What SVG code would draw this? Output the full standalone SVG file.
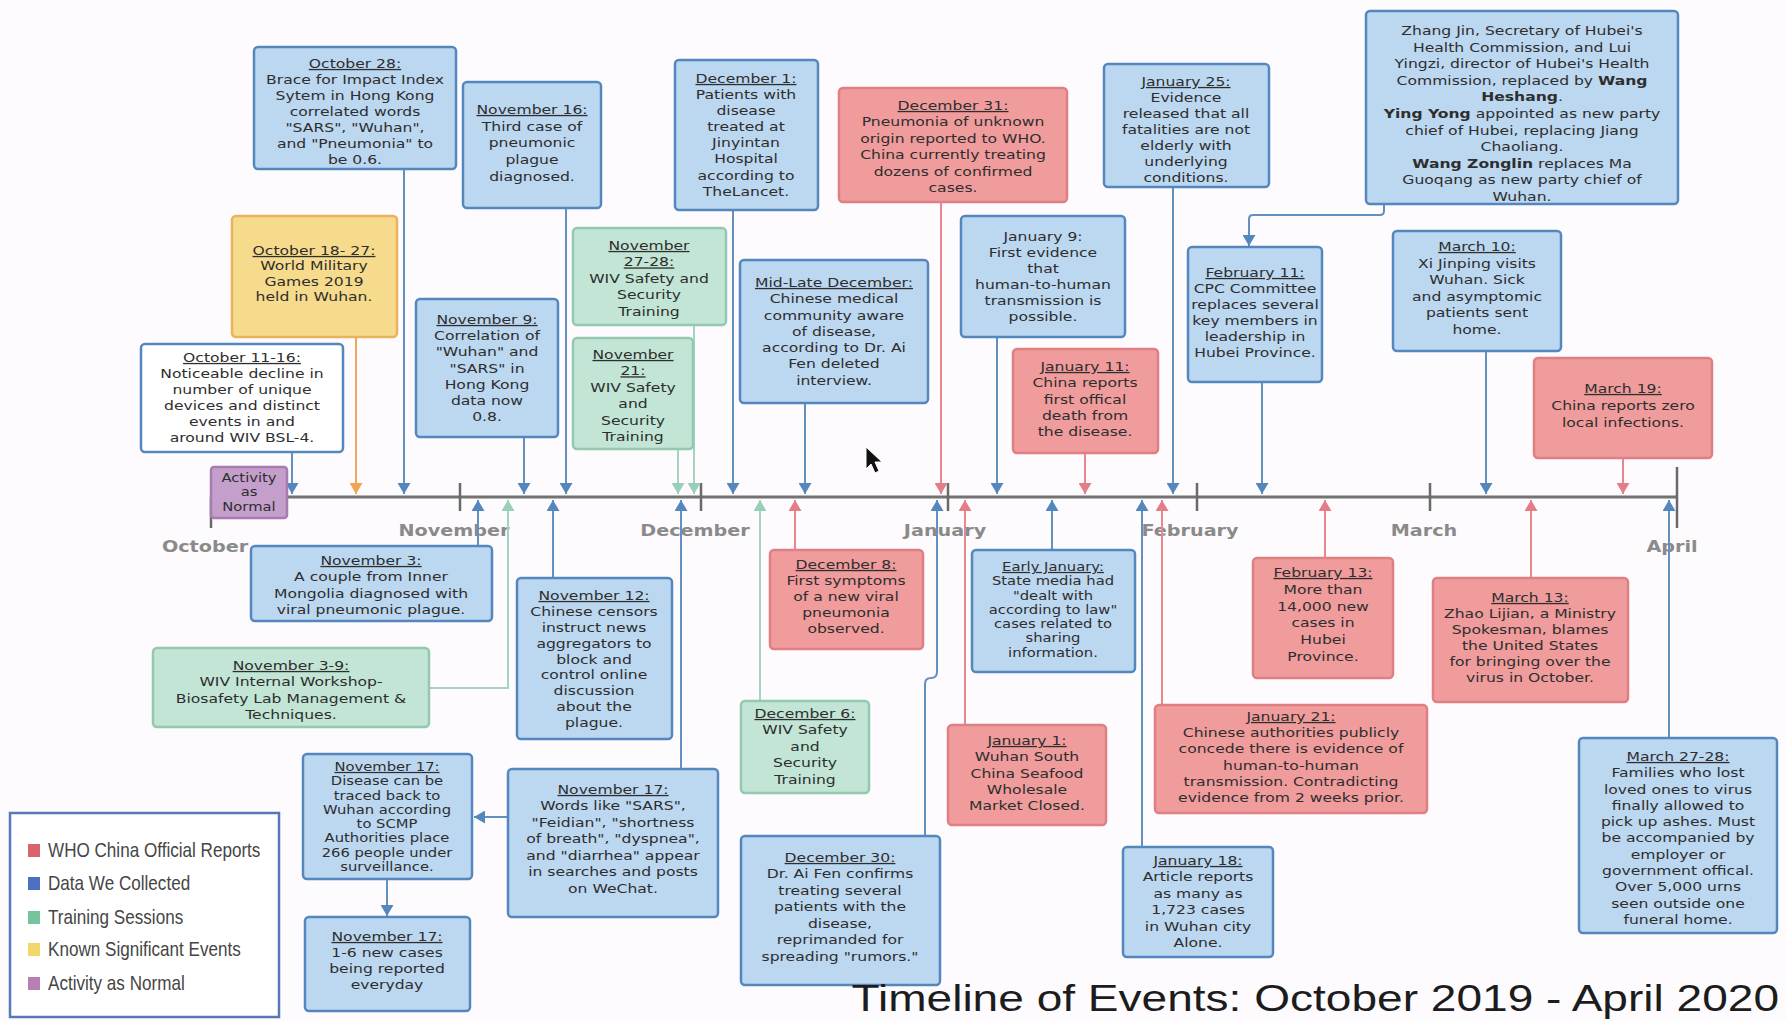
<svg xmlns="http://www.w3.org/2000/svg" width="1787" height="1021" viewBox="0 0 1787 1021">
<style>
.bx{stroke-width:2.5}
.b{fill:#bcd7f0;stroke:#5587bf}
.r{fill:#f09c9c;stroke:#df7e83}
.g{fill:#c2e5d5;stroke:#93c9b1}
.y{fill:#f7db8c;stroke:#eab25b}
.p{fill:#c49fcb;stroke:#a67cb1}
.w{fill:#ffffff;stroke:#5587bf}
.t{font-family:"DejaVu Sans",sans-serif;font-size:13px;fill:#2e2e2e;text-anchor:middle}
.s{font-size:12.3px}
.u{text-decoration:underline}
.bo{font-weight:bold}
.c{fill:none;stroke-width:2}
.cb{stroke:#6490c0}
.cr{stroke:#e8878d}
.cg{stroke:#a2d4bf}
.co{stroke:#f0a75c}
.m{font-family:"DejaVu Sans",sans-serif;font-size:16px;font-weight:bold;fill:#8a8a8a;text-anchor:middle}
.lg{font-family:"Liberation Sans",Arial,sans-serif;font-size:20px;fill:#454545}
</style>
<defs>
<marker id="mb" viewBox="0 0 11 13" refX="11" refY="6.5" markerWidth="11" markerHeight="13" markerUnits="userSpaceOnUse" orient="auto"><path d="M0,0 L11,6.5 L0,13 z" fill="#5587bf"/></marker>
<marker id="mr" viewBox="0 0 11 13" refX="11" refY="6.5" markerWidth="11" markerHeight="13" markerUnits="userSpaceOnUse" orient="auto"><path d="M0,0 L11,6.5 L0,13 z" fill="#e47e86"/></marker>
<marker id="mg" viewBox="0 0 11 13" refX="11" refY="6.5" markerWidth="11" markerHeight="13" markerUnits="userSpaceOnUse" orient="auto"><path d="M0,0 L11,6.5 L0,13 z" fill="#98cfb7"/></marker>
<marker id="mo" viewBox="0 0 11 13" refX="11" refY="6.5" markerWidth="11" markerHeight="13" markerUnits="userSpaceOnUse" orient="auto"><path d="M0,0 L11,6.5 L0,13 z" fill="#f0a554"/></marker>
</defs>
<rect x="0" y="0" width="1787" height="1021" fill="#fdfbfd"/>

<g id="timeline">
<line x1="211" y1="497" x2="1677" y2="497" stroke="#727272" stroke-width="3"/>
<g stroke="#6a6a6a" stroke-width="2.5">
<line x1="211" y1="497" x2="211" y2="528"/>
<line x1="460" y1="483" x2="460" y2="511"/>
<line x1="701" y1="483" x2="701" y2="511"/>
<line x1="948" y1="483" x2="948" y2="511"/>
<line x1="1197" y1="483" x2="1197" y2="511"/>
<line x1="1430" y1="483" x2="1430" y2="511"/>
<line x1="1677" y1="467" x2="1677" y2="528"/>
</g>
<text class="m" transform="translate(205,552) scale(1.2,1)">October</text>
<text class="m" transform="translate(454,536) scale(1.2,1)">November</text>
<text class="m" transform="translate(695,536) scale(1.2,1)">December</text>
<text class="m" transform="translate(945,536) scale(1.2,1)">January</text>
<text class="m" transform="translate(1190,536) scale(1.2,1)">February</text>
<text class="m" transform="translate(1424,536) scale(1.2,1)">March</text>
<text class="m" transform="translate(1672,552) scale(1.2,1)">April</text>
</g>

<g id="connectors">
<line class="c cb" x1="292" y1="452" x2="292" y2="494" marker-end="url(#mb)"/>
<line class="c co" x1="356" y1="337" x2="356" y2="494" marker-end="url(#mo)"/>
<line class="c cb" x1="404" y1="169" x2="404" y2="494" marker-end="url(#mb)"/>
<line class="c cb" x1="524" y1="437" x2="524" y2="494" marker-end="url(#mb)"/>
<line class="c cb" x1="566" y1="208" x2="566" y2="494" marker-end="url(#mb)"/>
<line class="c cg" x1="678" y1="449" x2="678" y2="494" marker-end="url(#mg)"/>
<line class="c cg" x1="694" y1="325" x2="694" y2="494" marker-end="url(#mg)"/>
<line class="c cb" x1="733" y1="210" x2="733" y2="494" marker-end="url(#mb)"/>
<line class="c cb" x1="805" y1="403" x2="805" y2="494" marker-end="url(#mb)"/>
<line class="c cr" x1="941" y1="202" x2="941" y2="494" marker-end="url(#mr)"/>
<line class="c cb" x1="997" y1="337" x2="997" y2="494" marker-end="url(#mb)"/>
<line class="c cr" x1="1085" y1="453" x2="1085" y2="494" marker-end="url(#mr)"/>
<line class="c cb" x1="1173" y1="187" x2="1173" y2="494" marker-end="url(#mb)"/>
<line class="c cb" x1="1262" y1="382" x2="1262" y2="494" marker-end="url(#mb)"/>
<line class="c cb" x1="1486" y1="351" x2="1486" y2="494" marker-end="url(#mb)"/>
<line class="c cr" x1="1623" y1="458" x2="1623" y2="494" marker-end="url(#mr)"/>

<line class="c cb" x1="478" y1="546" x2="478" y2="500" marker-end="url(#mb)"/>
<path class="c cg" d="M429,688 H508 V500" marker-end="url(#mg)"/>
<line class="c cb" x1="553" y1="578" x2="553" y2="500" marker-end="url(#mb)"/>
<line class="c cb" x1="681" y1="769" x2="681" y2="500" marker-end="url(#mb)"/>
<line class="c cg" x1="760" y1="701" x2="760" y2="500" marker-end="url(#mg)"/>
<line class="c cr" x1="795" y1="550" x2="795" y2="500" marker-end="url(#mr)"/>
<path class="c cb" d="M925,836 V684 Q925,678 931,678 Q937,678 937,672 V500" marker-end="url(#mb)"/>
<line class="c cr" x1="965" y1="725" x2="965" y2="500" marker-end="url(#mr)"/>
<line class="c cb" x1="1052" y1="550" x2="1052" y2="500" marker-end="url(#mb)"/>
<line class="c cb" x1="1142" y1="847" x2="1142" y2="500" marker-end="url(#mb)"/>
<line class="c cr" x1="1162" y1="705" x2="1162" y2="500" marker-end="url(#mr)"/>
<line class="c cr" x1="1325" y1="558" x2="1325" y2="500" marker-end="url(#mr)"/>
<line class="c cr" x1="1531" y1="578" x2="1531" y2="500" marker-end="url(#mr)"/>
<line class="c cb" x1="1669" y1="738" x2="1669" y2="500" marker-end="url(#mb)"/>

<line class="c cb" x1="508" y1="817" x2="474" y2="817" marker-end="url(#mb)"/>
<line class="c cb" x1="387" y1="879" x2="387" y2="916" marker-end="url(#mb)"/>
<path class="c cb" d="M1384,204 V211 Q1384,215 1380,215 H1253 Q1249,215 1249,219 V246" marker-end="url(#mb)"/>
</g>

<g id="oct28"><rect class="bx b" x="254" y="47" width="202" height="122" rx="4"/>
<text class="t" transform="translate(355,68) scale(1.2,1)"><tspan x="0" class="u">October 28:</tspan><tspan x="0" dy="16">Brace for Impact Index</tspan><tspan x="0" dy="16">Sytem in Hong Kong</tspan><tspan x="0" dy="16">correlated words</tspan><tspan x="0" dy="16">"SARS", "Wuhan",</tspan><tspan x="0" dy="16">and "Pneumonia" to</tspan><tspan x="0" dy="16">be 0.6.</tspan></text></g>

<g id="oct1827"><rect class="bx y" x="232" y="216" width="165" height="121" rx="4"/>
<text class="t" transform="translate(314,255) scale(1.2,1)"><tspan x="0" class="u">October 18- 27:</tspan><tspan x="0" dy="15.5">World Military</tspan><tspan x="0" dy="15.5">Games 2019</tspan><tspan x="0" dy="15.5">held in Wuhan.</tspan></text></g>

<g id="oct1116"><rect class="bx w" x="141" y="344" width="202" height="108" rx="4"/>
<text class="t" transform="translate(242,362) scale(1.2,1)"><tspan x="0" class="u">October 11-16:</tspan><tspan x="0" dy="16">Noticeable decline in</tspan><tspan x="0" dy="16">number of unique</tspan><tspan x="0" dy="16">devices and distinct</tspan><tspan x="0" dy="16">events in and</tspan><tspan x="0" dy="16">around WIV BSL-4.</tspan></text></g>

<g id="activity"><rect class="bx p" x="211" y="467" width="76" height="51" rx="3"/>
<text class="t s" transform="translate(249,482) scale(1.2,1)"><tspan x="0">Activity</tspan><tspan x="0" dy="14.5">as</tspan><tspan x="0" dy="14.5">Normal</tspan></text></g>

<g id="nov3"><rect class="bx b" x="251" y="546" width="241" height="75" rx="4"/>
<text class="t" transform="translate(371,565) scale(1.2,1)"><tspan x="0" class="u">November 3:</tspan><tspan x="0" dy="16.3">A couple from Inner</tspan><tspan x="0" dy="16.3">Mongolia diagnosed with</tspan><tspan x="0" dy="16.3">viral pneumonic plague.</tspan></text></g>

<g id="nov39"><rect class="bx g" x="153" y="648" width="276" height="79" rx="4"/>
<text class="t" transform="translate(291,670) scale(1.2,1)"><tspan x="0" class="u">November 3-9:</tspan><tspan x="0" dy="16.3">WIV Internal Workshop-</tspan><tspan x="0" dy="16.3">Biosafety Lab Management &amp;</tspan><tspan x="0" dy="16.3">Techniques.</tspan></text></g>

<g id="nov17a"><rect class="bx b" x="303" y="754" width="169" height="125" rx="4"/>
<text class="t s" transform="translate(387,771) scale(1.2,1)"><tspan x="0" class="u">November 17:</tspan><tspan x="0" dy="14.3">Disease can be</tspan><tspan x="0" dy="14.3">traced back to</tspan><tspan x="0" dy="14.3">Wuhan according</tspan><tspan x="0" dy="14.3">to SCMP</tspan><tspan x="0" dy="14.3">Authorities place</tspan><tspan x="0" dy="14.3">266 people under</tspan><tspan x="0" dy="14.3">surveillance.</tspan></text></g>

<g id="nov17b"><rect class="bx b" x="305" y="917" width="165" height="94" rx="4"/>
<text class="t" transform="translate(387,941) scale(1.2,1)"><tspan x="0" class="u">November 17:</tspan><tspan x="0" dy="16">1-6 new cases</tspan><tspan x="0" dy="16">being reported</tspan><tspan x="0" dy="16">everyday</tspan></text></g>

<g id="nov17c"><rect class="bx b" x="508" y="769" width="210" height="148" rx="4"/>
<text class="t" transform="translate(613,794) scale(1.2,1)"><tspan x="0" class="u">November 17:</tspan><tspan x="0" dy="16.5">Words like "SARS",</tspan><tspan x="0" dy="16.5">"Feidian", "shortness</tspan><tspan x="0" dy="16.5">of breath", "dyspnea",</tspan><tspan x="0" dy="16.5">and "diarrhea" appear</tspan><tspan x="0" dy="16.5">in searches and posts</tspan><tspan x="0" dy="16.5">on WeChat.</tspan></text></g>

<g id="nov12"><rect class="bx b" x="517" y="578" width="155" height="161" rx="4"/>
<text class="t" transform="translate(594,600) scale(1.2,1)"><tspan x="0" class="u">November 12:</tspan><tspan x="0" dy="15.9">Chinese censors</tspan><tspan x="0" dy="15.9">instruct news</tspan><tspan x="0" dy="15.9">aggregators to</tspan><tspan x="0" dy="15.9">block and</tspan><tspan x="0" dy="15.9">control online</tspan><tspan x="0" dy="15.9">discussion</tspan><tspan x="0" dy="15.9">about the</tspan><tspan x="0" dy="15.9">plague.</tspan></text></g>

<g id="nov9"><rect class="bx b" x="416" y="299" width="142" height="138" rx="4"/>
<text class="t" transform="translate(487,324) scale(1.2,1)"><tspan x="0" class="u">November 9:</tspan><tspan x="0" dy="16.2">Correlation of</tspan><tspan x="0" dy="16.2">"Wuhan" and</tspan><tspan x="0" dy="16.2">"SARS" in</tspan><tspan x="0" dy="16.2">Hong Kong</tspan><tspan x="0" dy="16.2">data now</tspan><tspan x="0" dy="16.2">0.8.</tspan></text></g>

<g id="nov16"><rect class="bx b" x="463" y="82" width="138" height="126" rx="4"/>
<text class="t" transform="translate(532,114) scale(1.2,1)"><tspan x="0" class="u">November 16:</tspan><tspan x="0" dy="16.7">Third case of</tspan><tspan x="0" dy="16.7">pneumonic</tspan><tspan x="0" dy="16.7">plague</tspan><tspan x="0" dy="16.7">diagnosed.</tspan></text></g>

<g id="nov2728"><rect class="bx g" x="573" y="228" width="153" height="97" rx="4"/>
<text class="t" transform="translate(649,250) scale(1.2,1)"><tspan x="0" class="u">November</tspan><tspan x="0" dy="16.5" class="u">27-28:</tspan><tspan x="0" dy="16.5">WIV Safety and</tspan><tspan x="0" dy="16.5">Security</tspan><tspan x="0" dy="16.5">Training</tspan></text></g>

<g id="nov21"><rect class="bx g" x="573" y="338" width="120" height="111" rx="4"/>
<text class="t" transform="translate(633,359) scale(1.2,1)"><tspan x="0" class="u">November</tspan><tspan x="0" dy="16.4" class="u">21:</tspan><tspan x="0" dy="16.4">WIV Safety</tspan><tspan x="0" dy="16.4">and</tspan><tspan x="0" dy="16.4">Security</tspan><tspan x="0" dy="16.4">Training</tspan></text></g>

<g id="dec1"><rect class="bx b" x="675" y="60" width="143" height="150" rx="4"/>
<text class="t" transform="translate(746,83) scale(1.2,1)"><tspan x="0" class="u">December 1:</tspan><tspan x="0" dy="16.1">Patients with</tspan><tspan x="0" dy="16.1">disease</tspan><tspan x="0" dy="16.1">treated at</tspan><tspan x="0" dy="16.1">Jinyintan</tspan><tspan x="0" dy="16.1">Hospital</tspan><tspan x="0" dy="16.1">according to</tspan><tspan x="0" dy="16.1">TheLancet.</tspan></text></g>

<g id="midlate"><rect class="bx b" x="740" y="260" width="188" height="143" rx="4"/>
<text class="t" transform="translate(834,287) scale(1.2,1)"><tspan x="0" class="u">Mid-Late December:</tspan><tspan x="0" dy="16.3">Chinese medical</tspan><tspan x="0" dy="16.3">community aware</tspan><tspan x="0" dy="16.3">of disease,</tspan><tspan x="0" dy="16.3">according to Dr. Ai</tspan><tspan x="0" dy="16.3">Fen deleted</tspan><tspan x="0" dy="16.3">interview.</tspan></text></g>

<g id="dec31"><rect class="bx r" x="839" y="88" width="228" height="114" rx="4"/>
<text class="t" transform="translate(953,110) scale(1.2,1)"><tspan x="0" class="u">December 31:</tspan><tspan x="0" dy="16.4">Pneumonia of unknown</tspan><tspan x="0" dy="16.4">origin reported to WHO.</tspan><tspan x="0" dy="16.4">China currently treating</tspan><tspan x="0" dy="16.4">dozens of confirmed</tspan><tspan x="0" dy="16.4">cases.</tspan></text></g>

<g id="dec8"><rect class="bx r" x="770" y="550" width="153" height="99" rx="4"/>
<text class="t" transform="translate(846,569) scale(1.2,1)"><tspan x="0" class="u">December 8:</tspan><tspan x="0" dy="16">First symptoms</tspan><tspan x="0" dy="16">of a new viral</tspan><tspan x="0" dy="16">pneumonia</tspan><tspan x="0" dy="16">observed.</tspan></text></g>

<g id="dec6"><rect class="bx g" x="741" y="701" width="128" height="92" rx="4"/>
<text class="t" transform="translate(805,718) scale(1.2,1)"><tspan x="0" class="u">December 6:</tspan><tspan x="0" dy="16.5">WIV Safety</tspan><tspan x="0" dy="16.5">and</tspan><tspan x="0" dy="16.5">Security</tspan><tspan x="0" dy="16.5">Training</tspan></text></g>

<g id="dec30"><rect class="bx b" x="741" y="836" width="199" height="149" rx="4"/>
<text class="t" transform="translate(840,862) scale(1.2,1)"><tspan x="0" class="u">December 30:</tspan><tspan x="0" dy="16.5">Dr. Ai Fen confirms</tspan><tspan x="0" dy="16.5">treating several</tspan><tspan x="0" dy="16.5">patients with the</tspan><tspan x="0" dy="16.5">disease,</tspan><tspan x="0" dy="16.5">reprimanded for</tspan><tspan x="0" dy="16.5">spreading "rumors."</tspan></text></g>

<g id="jan9"><rect class="bx b" x="961" y="216" width="164" height="121" rx="4"/>
<text class="t" transform="translate(1043,241) scale(1.2,1)"><tspan x="0">January 9:</tspan><tspan x="0" dy="16">First evidence</tspan><tspan x="0" dy="16">that</tspan><tspan x="0" dy="16">human-to-human</tspan><tspan x="0" dy="16">transmission is</tspan><tspan x="0" dy="16">possible.</tspan></text></g>

<g id="jan11"><rect class="bx r" x="1013" y="349" width="145" height="104" rx="4"/>
<text class="t" transform="translate(1085,371) scale(1.2,1)"><tspan x="0" class="u">January 11:</tspan><tspan x="0" dy="16.3">China reports</tspan><tspan x="0" dy="16.3">first offical</tspan><tspan x="0" dy="16.3">death from</tspan><tspan x="0" dy="16.3">the disease.</tspan></text></g>

<g id="earlyjan"><rect class="bx b" x="972" y="550" width="163" height="122" rx="4"/>
<text class="t s" transform="translate(1053,571) scale(1.2,1)"><tspan x="0" class="u">Early January:</tspan><tspan x="0" dy="14.3">State media had</tspan><tspan x="0" dy="14.3">"dealt with</tspan><tspan x="0" dy="14.3">according to law"</tspan><tspan x="0" dy="14.3">cases related to</tspan><tspan x="0" dy="14.3">sharing</tspan><tspan x="0" dy="14.3">information.</tspan></text></g>

<g id="jan1"><rect class="bx r" x="948" y="725" width="158" height="100" rx="4"/>
<text class="t" transform="translate(1027,745) scale(1.2,1)"><tspan x="0" class="u">January 1:</tspan><tspan x="0" dy="16.3">Wuhan South</tspan><tspan x="0" dy="16.3">China Seafood</tspan><tspan x="0" dy="16.3">Wholesale</tspan><tspan x="0" dy="16.3">Market Closed.</tspan></text></g>

<g id="jan18"><rect class="bx b" x="1123" y="847" width="150" height="110" rx="4"/>
<text class="t" transform="translate(1198,865) scale(1.2,1)"><tspan x="0" class="u">January 18:</tspan><tspan x="0" dy="16.4">Article reports</tspan><tspan x="0" dy="16.4">as many as</tspan><tspan x="0" dy="16.4">1,723 cases</tspan><tspan x="0" dy="16.4">in Wuhan city</tspan><tspan x="0" dy="16.4">Alone.</tspan></text></g>

<g id="jan21"><rect class="bx r" x="1155" y="705" width="272" height="108" rx="4"/>
<text class="t" transform="translate(1291,721) scale(1.2,1)"><tspan x="0" class="u">January 21:</tspan><tspan x="0" dy="16.2">Chinese authorities publicly</tspan><tspan x="0" dy="16.2">concede there is evidence of</tspan><tspan x="0" dy="16.2">human-to-human</tspan><tspan x="0" dy="16.2">transmission. Contradicting</tspan><tspan x="0" dy="16.2">evidence from 2 weeks prior.</tspan></text></g>

<g id="jan25"><rect class="bx b" x="1104" y="64" width="165" height="123" rx="4"/>
<text class="t" transform="translate(1186,86) scale(1.2,1)"><tspan x="0" class="u">January 25:</tspan><tspan x="0" dy="16">Evidence</tspan><tspan x="0" dy="16">released that all</tspan><tspan x="0" dy="16">fatalities are not</tspan><tspan x="0" dy="16">elderly with</tspan><tspan x="0" dy="16">underlying</tspan><tspan x="0" dy="16">conditions.</tspan></text></g>

<g id="feb11"><rect class="bx b" x="1188" y="247" width="134" height="135" rx="4"/>
<text class="t" transform="translate(1255,277) scale(1.2,1)"><tspan x="0" class="u">February 11:</tspan><tspan x="0" dy="16">CPC Committee</tspan><tspan x="0" dy="16">replaces several</tspan><tspan x="0" dy="16">key members in</tspan><tspan x="0" dy="16">leadership in</tspan><tspan x="0" dy="16">Hubei Province.</tspan></text></g>

<g id="zhang"><rect class="bx b" x="1366" y="11" width="312" height="193" rx="4"/>
<text class="t" transform="translate(1522,35) scale(1.2,1)"><tspan x="0">Zhang Jin, Secretary of Hubei's</tspan><tspan x="0" dy="16.6">Health Commission, and Lui</tspan><tspan x="0" dy="16.6">Yingzi, director of Hubei's Health</tspan><tspan x="0" dy="16.6">Commission, replaced by <tspan class="bo">Wang</tspan></tspan><tspan x="0" dy="16.6"><tspan class="bo">Heshang</tspan>.</tspan><tspan x="0" dy="16.6"><tspan class="bo">Ying Yong</tspan> appointed as new party</tspan><tspan x="0" dy="16.6">chief of Hubei, replacing Jiang</tspan><tspan x="0" dy="16.6">Chaoliang.</tspan><tspan x="0" dy="16.6"><tspan class="bo">Wang Zonglin</tspan> replaces Ma</tspan><tspan x="0" dy="16.6">Guoqang as new party chief of</tspan><tspan x="0" dy="16.6">Wuhan.</tspan></text></g>

<g id="feb13"><rect class="bx r" x="1253" y="558" width="140" height="120" rx="4"/>
<text class="t" transform="translate(1323,577) scale(1.2,1)"><tspan x="0" class="u">February 13:</tspan><tspan x="0" dy="16.8">More than</tspan><tspan x="0" dy="16.8">14,000 new</tspan><tspan x="0" dy="16.8">cases in</tspan><tspan x="0" dy="16.8">Hubei</tspan><tspan x="0" dy="16.8">Province.</tspan></text></g>

<g id="mar10"><rect class="bx b" x="1393" y="231" width="168" height="120" rx="4"/>
<text class="t" transform="translate(1477,251) scale(1.2,1)"><tspan x="0" class="u">March 10:</tspan><tspan x="0" dy="16.6">Xi Jinping visits</tspan><tspan x="0" dy="16.6">Wuhan. Sick</tspan><tspan x="0" dy="16.6">and asymptomic</tspan><tspan x="0" dy="16.6">patients sent</tspan><tspan x="0" dy="16.6">home.</tspan></text></g>

<g id="mar19"><rect class="bx r" x="1534" y="358" width="178" height="100" rx="4"/>
<text class="t" transform="translate(1623,393) scale(1.2,1)"><tspan x="0" class="u">March 19:</tspan><tspan x="0" dy="17">China reports zero</tspan><tspan x="0" dy="17">local infections.</tspan></text></g>

<g id="mar13"><rect class="bx r" x="1433" y="578" width="195" height="124" rx="4"/>
<text class="t" transform="translate(1530,602) scale(1.2,1)"><tspan x="0" class="u">March 13:</tspan><tspan x="0" dy="16">Zhao Lijian, a Ministry</tspan><tspan x="0" dy="16">Spokesman, blames</tspan><tspan x="0" dy="16">the United States</tspan><tspan x="0" dy="16">for bringing over the</tspan><tspan x="0" dy="16">virus in October.</tspan></text></g>

<g id="mar2728"><rect class="bx b" x="1579" y="738" width="198" height="195" rx="4"/>
<text class="t" transform="translate(1678,761) scale(1.2,1)"><tspan x="0" class="u">March 27-28:</tspan><tspan x="0" dy="16.3">Families who lost</tspan><tspan x="0" dy="16.3">loved ones to virus</tspan><tspan x="0" dy="16.3">finally allowed to</tspan><tspan x="0" dy="16.3">pick up ashes. Must</tspan><tspan x="0" dy="16.3">be accompanied by</tspan><tspan x="0" dy="16.3">employer or</tspan><tspan x="0" dy="16.3">government offical.</tspan><tspan x="0" dy="16.3">Over 5,000 urns</tspan><tspan x="0" dy="16.3">seen outside one</tspan><tspan x="0" dy="16.3">funeral home.</tspan></text></g>

<g id="legend">
<rect x="10" y="813" width="269" height="204" fill="#ffffff" stroke="#5a78b8" stroke-width="2.5"/>
<rect x="28" y="844" width="12" height="13" fill="#d9646e"/>
<rect x="28" y="877" width="12" height="13" fill="#4d6fc2"/>
<rect x="28" y="911" width="12" height="13" fill="#75c49d"/>
<rect x="28" y="943" width="12" height="13" fill="#f2d56c"/>
<rect x="28" y="977" width="12" height="13" fill="#b77fb2"/>
<text class="lg" transform="translate(48,857) scale(0.855,1)">WHO China Official Reports</text>
<text class="lg" transform="translate(48,890) scale(0.855,1)">Data We Collected</text>
<text class="lg" transform="translate(48,924) scale(0.855,1)">Training Sessions</text>
<text class="lg" transform="translate(48,956) scale(0.855,1)">Known Significant Events</text>
<text class="lg" transform="translate(48,990) scale(0.855,1)">Activity as Normal</text>
</g>

<text id="title" transform="translate(1779,1011) scale(1.245,1)" font-family="Liberation Sans, Arial, sans-serif" font-size="37" fill="#1c1c1c" text-anchor="end">Timeline of Events: October 2019 - April 2020</text>

<path id="cursor" d="M866,447 V469 L871,464 L875,473 L879,471 L875,462 L882,462 Z" fill="#111" stroke="#fff" stroke-width="1"/>
</svg>
